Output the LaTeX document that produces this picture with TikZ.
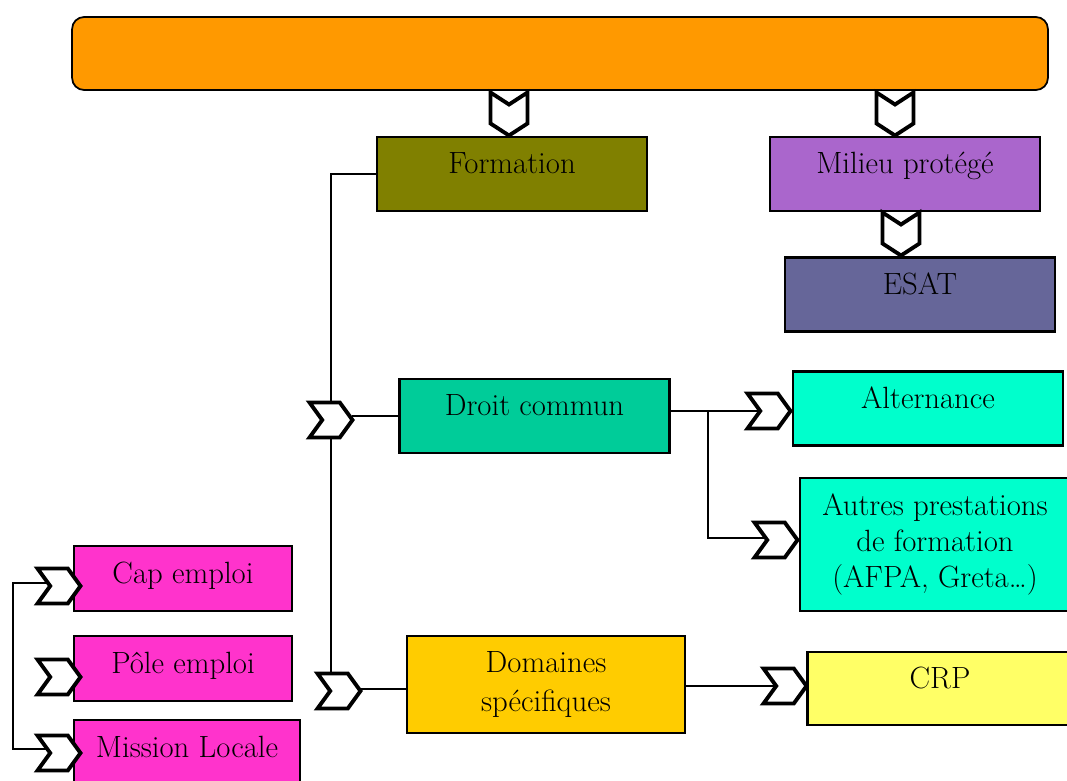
\documentclass[tikz,border=0pt]{standalone}
\usetikzlibrary{shapes.symbols, calc}

\definecolor{barOrange}{HTML}{FF9900}
\definecolor{formOlive}{HTML}{808000}
\definecolor{milieuPurple}{HTML}{AA66CC}
\definecolor{esatBlue}{HTML}{666699}
\definecolor{droitGreen}{HTML}{00CC99}
\definecolor{altCyan}{HTML}{00FFCC}
\definecolor{domYellow}{HTML}{FFCC00}
\definecolor{crpYellow}{HTML}{FFFF66}
\definecolor{capPink}{HTML}{FF33CC}

\begin{document}
\begin{tikzpicture}[x=0.02cm, y=-0.02cm,
  base/.style={draw, line width=1.5pt, inner sep=0pt, font=\fontsize{17.5}{21}\selectfont},
  box/.style={base, minimum width=5.4cm, minimum height=1.48cm, text height=12pt, text depth=12.5pt},
  pinkbox/.style={base, fill=capPink, minimum width=4.36cm, minimum height=1.3cm, text height=12pt, text depth=6.6pt},
  chev/.style={draw, fill=white, line width=2.2pt, signal, signal from=west, signal to=east,
    signal pointer angle=108, minimum width=0.86cm, minimum height=0.7cm, inner sep=0pt},
  chevdown/.style={chev, signal from=north, signal to=south, signal pointer angle=114,
    minimum width=0.74cm, minimum height=0.38cm},
  link/.style={line width=0.8pt}]
\useasboundingbox (0,0) rectangle (1067,780);

% Top bar
\node[base, fill=barOrange, rounded corners=0.24cm, line width=1pt, minimum width=19.52cm, minimum height=1.46cm] (bar) at (560,53.5) {};

% Boxes
\node[box, fill=formOlive] (formation) at (512,174) {Formation};
\node[box, fill=milieuPurple] (milieu) at (905,174) {Milieu protégé};
\node[box, fill=esatBlue] (esat) at (920,294.5) {ESAT};
\node[box, fill=droitGreen] (droit) at (534.5,416) {Droit commun};
\node[box, fill=altCyan] (alternance) at (928,408.5) {Alternance};
\node[base, fill=altCyan, align=center, minimum width=5.4cm, minimum height=2.66cm,
  font=\fontsize{17.5}{20.5}\selectfont] (autres) at (935,544.5) {Autres prestations\\de formation\\(AFPA, Greta\ldots)};
\node[base, fill=domYellow, align=center, minimum width=5.56cm, minimum height=1.94cm,
  font=\fontsize{17.5}{22.5}\selectfont] (domaines) at (546,684.5) {Domaines\\spécifiques};
\node[box, fill=crpYellow, minimum width=5.3cm, minimum height=1.46cm] (crp) at (940,688.5) {CRP};

% Left column
\node[pinkbox] (cap) at (183,578.5) {Cap emploi};
\node[pinkbox] (pole) at (183,668.5) {Pôle emploi};
\node[pinkbox, minimum width=4.52cm] (mission) at (187,752.5) {Mission Locale};

% Connectors
\coordinate (fork) at (708,411);
\coordinate (rail) at (13,0);
\draw[link] (formation.west) -| (331,402);
\draw[link] (331,438) -- (331,673);
\draw[link] (352,416) -- (droit.west |- 0,416);
\draw[link] (360,689) -- (domaines.west |- 0,689);
\draw[link] (droit.east |- fork) -- (760,411);
\draw[link] (fork) |- (765,538);
\draw[link] (domaines.east |- 0,686) -- (775,686);
\draw[link] (48,583) -| (rail |- 0,583) |- (48,749);

% Chevrons
\node[chevdown] (dA) at (509,114) {};
\node[chevdown] (dB) at (895,114) {};
\node[chevdown] (dC) at (901,234) {};
\foreach \name/\x/\y in {cF/331/420, cS/339/691, cA/769/411, cP/776/540, cC/785/686,
  cCap/59/586, cPole/59/677, cMis/59/753}
  \node[chev] (\name) at (\x,\y) {};
\end{tikzpicture}
\end{document}
